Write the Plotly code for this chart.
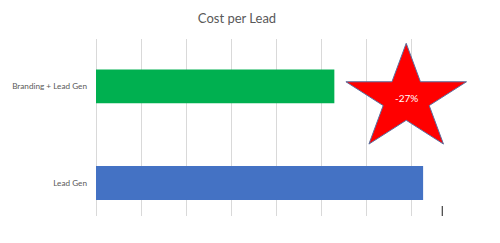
import math
import plotly.graph_objects as go

# ---- data ----
categories = ["Lead Gen", "Branding + Lead Gen"]
cost_per_lead = [7.26, 5.29]
bar_colors = ["#4472C4", "#00B050"]
change_label = "-27%"
title_text = "Cost per Lead"

W, H = 500, 243
L, R, T, B = 96, 44, 39, 27
pw, ph = W - L - R, H - T - B

def px2paper(px, py):
    return (px - L) / pw, (H - B - py) / ph

fig = go.Figure()
fig.add_trace(go.Bar(
    y=categories, x=cost_per_lead, orientation="h",
    marker=dict(color=bar_colors, line=dict(width=0)),
    width=0.35, hoverinfo="skip",
))

# star callout (decoration), built in pixel space then mapped to paper
cx, cy, rx, ry = 406.2, 99.0, 63.4, 55.7
pts = []
for i in range(10):
    ang = math.radians(90 + 36 * i)
    f = 1.0 if i % 2 == 0 else 0.382
    px = cx + f * rx * math.cos(ang)
    py = cy - f * ry * math.sin(ang)
    pts.append(px2paper(px, py))
path = "M " + " L ".join(f"{x:.4f},{y:.4f}" for x, y in pts) + " Z"

shapes = [
    dict(type="path", xref="paper", yref="paper", path=path,
         fillcolor="#FF0000", line=dict(color="#5B6FA0", width=1), layer="above"),
]
# small dark tick mark near bottom-right
x0, y0 = px2paper(442.3, 206)
x1, y1 = px2paper(442.3, 216)
shapes.append(dict(type="line", xref="paper", yref="paper", x0=x0, y0=y0, x1=x1, y1=y1,
                   line=dict(color="#404040", width=1.2)))

tx, ty = px2paper(406.2, 97.7)
fig.update_layout(
    width=W, height=H,
    margin=dict(l=L, r=R, t=T, b=B, autoexpand=False),
    paper_bgcolor="white", plot_bgcolor="white",
    showlegend=False,
    title=dict(text=title_text, x=237 / W, xref="container", xanchor="center",
               y=1 - 18.5 / H, yref="container", yanchor="middle",
               font=dict(family="Lato, Open Sans, sans-serif", size=13, color="#595959")),
    xaxis=dict(range=[0, 7.99], dtick=1, showticklabels=False, showgrid=True,
               gridcolor="#D9D9D9", gridwidth=1, zeroline=True, zerolinecolor="#D9D9D9",
               zerolinewidth=1, showline=False, ticks="", fixedrange=True, automargin=False),
    yaxis=dict(type="category", categoryorder="array", categoryarray=categories,
               range=[-0.342, 1.492], showgrid=False, zeroline=False, showline=False,
               ticks="", ticklabelstandoff=8, automargin=False,
               tickfont=dict(family="Lato, Open Sans, sans-serif", size=8.2, color="#595959")),
    shapes=shapes,
    annotations=[dict(xref="paper", yref="paper", x=tx, y=ty, text=change_label,
                      showarrow=False, xanchor="center", yanchor="middle",
                      font=dict(family="Lato, Open Sans, sans-serif", size=10, color="white"))],
)
fig.write_html("out.html")
